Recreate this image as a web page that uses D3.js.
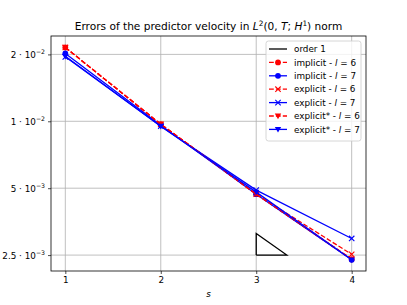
<!DOCTYPE html>
<html>
<head>
<meta charset="utf-8">
<script src="https://cdn.jsdelivr.net/npm/d3@7"></script>
<style>
  body { margin: 0; background: #fff; overflow: hidden; }
  svg { display: block; }
  text { font-family: "DejaVu Sans", sans-serif; }
</style>
</head>
<body>
<div id="chart"></div>
<script>
var width = 407
var height = 305
var margin = { top: 36, bottom: 34, left: 51, right: 41 }
var innerWidth = width - margin.left - margin.right
var innerHeight = height - margin.top - margin.bottom

// data
var sValues = [1, 2, 3, 4]
var xTicks = [1, 2, 3, 4]
var yTicks = [2.5e-3, 5e-3, 1e-2, 2e-2]
var yTickMant = ['2.5', '5', '1', '2']
var yTickExp = ['\u22123', '\u22123', '\u22122', '\u22122']

var implicit6 = [0.0215, 0.0097, 0.0047, 0.00239]
var implicit7 = [0.0202, 0.0096, 0.0047, 0.00238]
var explicit6 = [0.0215, 0.0097, 0.0047, 0.00252]
var explicit7 = [0.0195, 0.0095, 0.0049, 0.00297]
var explicitS6 = [0.0215, 0.0097, 0.0047, 0.00240]
var explicitS7 = [0.0196, 0.0095, 0.0048, 0.00238]

// order 1 triangle
var triS = [3, 3.32, 3, 3]
var triE = [2.5e-3, 2.5e-3, 3.13e-3, 2.5e-3]

var series = [
    { name: 'implicit', l: 6, data: implicit6, color: 'red', dash: true, marker: 'circle' },
    { name: 'implicit', l: 7, data: implicit7, color: 'blue', dash: false, marker: 'circle' },
    { name: 'explicit', l: 6, data: explicit6, color: 'red', dash: true, marker: 'x' },
    { name: 'explicit', l: 7, data: explicit7, color: 'blue', dash: false, marker: 'x' },
    { name: 'explicit*', l: 6, data: explicitS6, color: 'red', dash: true, marker: 'tri' },
    { name: 'explicit*', l: 7, data: explicitS7, color: 'blue', dash: false, marker: 'tri' }
]

var svg = d3.select('#chart').append('svg').attr('width', width).attr('height', height)

var xScale = d3.scaleLinear().domain([0.85, 4.15]).range([0, innerWidth])
var yScale = d3.scaleLog().domain([0.00212, 0.0242]).range([innerHeight, 0])

var g = svg.append('g').attr('transform', `translate(${margin.left},${margin.top})`)

// grid
g.append('g').selectAll('line').data(xTicks).join('line')
    .attr('x1', d => xScale(d)).attr('x2', d => xScale(d))
    .attr('y1', 0).attr('y2', innerHeight)
    .attr('stroke', '#b0b0b0').attr('stroke-width', 0.8)
g.append('g').selectAll('line').data(yTicks).join('line')
    .attr('y1', d => yScale(d)).attr('y2', d => yScale(d))
    .attr('x1', 0).attr('x2', innerWidth)
    .attr('stroke', '#b0b0b0').attr('stroke-width', 0.8)

// axes
var xAxis = d3.axisBottom(xScale).tickValues(xTicks).tickSize(3).tickPadding(3).tickFormat(d3.format('d'))
var gx = g.append('g').attr('transform', `translate(0,${innerHeight})`).call(xAxis)
gx.select('.domain').remove()
gx.selectAll('text').attr('font-size', 8.8).attr('fill', '#000').attr('font-family', 'DejaVu Sans')
gx.selectAll('line').attr('stroke-width', 0.7)

var yAxis = d3.axisLeft(yScale).tickValues(yTicks).tickSize(3).tickPadding(3).tickFormat('')
var gy = g.append('g').call(yAxis)
gy.select('.domain').remove()
gy.selectAll('.tick text').remove()
gy.selectAll('line').attr('stroke-width', 0.7)
gy.selectAll('.tick').each(function (d, i) {
    var t = d3.select(this).append('text')
        .attr('x', -6).attr('y', 3).attr('text-anchor', 'end')
        .attr('font-size', 8.8).attr('fill', '#000')
    t.append('tspan').text(yTickMant[i] + ' \u00b7 10')
    t.append('tspan').attr('dy', -3.5).attr('font-size', 6.2).text(yTickExp[i])
})

// order 1 triangle
var triLine = d3.line().x((d, i) => xScale(triS[i])).y((d, i) => yScale(triE[i]))
g.append('path').attr('d', triLine(triS)).attr('fill', 'none')
    .attr('stroke', 'black').attr('stroke-width', 1.3)

// series
var line = d3.line().x((d, i) => xScale(sValues[i])).y(d => yScale(d))

function drawMarker(sel, type, color) {
    if (type === 'circle') {
        sel.append('circle').attr('r', 2.9).attr('fill', color)
    } else if (type === 'x') {
        sel.append('path').attr('d', 'M-2.7,-2.7L2.7,2.7M-2.7,2.7L2.7,-2.7')
            .attr('stroke', color).attr('stroke-width', 1.1).attr('fill', 'none')
    } else {
        sel.append('path').attr('d', 'M-3.2,-2.4L3.2,-2.4L0,3.2Z').attr('fill', color)
    }
}

series.forEach(function (s) {
    g.append('path').attr('d', line(s.data)).attr('fill', 'none')
        .attr('stroke', s.color).attr('stroke-width', 1.3)
        .attr('stroke-dasharray', s.dash ? '4.8,2.1' : null)
    s.data.forEach(function (v, i) {
        var m = g.append('g').attr('transform', `translate(${xScale(sValues[i])},${yScale(v)})`)
        drawMarker(m, s.marker, s.color)
    })
})

// frame
g.append('rect').attr('width', innerWidth).attr('height', innerHeight)
    .attr('fill', 'none').attr('stroke', 'black').attr('stroke-width', 0.8)

// title
var title = svg.append('text').attr('x', margin.left + innerWidth / 2).attr('y', 30)
    .attr('text-anchor', 'middle').attr('font-size', 10.6).attr('fill', '#000')
title.append('tspan').text('Errors of the predictor velocity in ')
title.append('tspan').attr('font-style', 'italic').text('L')
title.append('tspan').attr('dy', -4).attr('font-size', 7.4).text('2')
title.append('tspan').attr('dy', 4).text('(0, ')
title.append('tspan').attr('font-style', 'italic').text('T')
title.append('tspan').text('; ')
title.append('tspan').attr('font-style', 'italic').text('H')
title.append('tspan').attr('dy', -4).attr('font-size', 7.4).text('1')
title.append('tspan').attr('dy', 4).text(') norm')

// x label
svg.append('text').attr('x', margin.left + innerWidth / 2).attr('y', 297)
    .attr('text-anchor', 'middle').attr('font-size', 8.8).attr('font-style', 'italic').text('s')

// legend
var lg = svg.append('g').attr('transform', 'translate(266,41)')
lg.append('rect').attr('width', 95).attr('height', 100).attr('rx', 2.5)
    .attr('fill', 'white').attr('fill-opacity', 0.8).attr('stroke', '#cccccc').attr('stroke-width', 0.8)
var rowH = 13.4
var rows = [{ label: 'order 1', color: 'black', dash: false, marker: null }].concat(series)
rows.forEach(function (r, i) {
    var y = 8 + i * rowH
    var row = lg.append('g').attr('transform', `translate(0,${y})`)
    row.append('line').attr('x1', 3).attr('x2', 21).attr('stroke', r.color).attr('stroke-width', 1.3)
        .attr('stroke-dasharray', r.dash ? '4.8,2.1' : null)
    if (r.marker) {
        var m = row.append('g').attr('transform', 'translate(12,0)')
        drawMarker(m, r.marker, r.color)
    }
    var t = row.append('text').attr('x', 28).attr('y', 3.2).attr('font-size', 8.8).attr('fill', '#000')
    if (r.l) {
        t.append('tspan').text(r.name + ' - ')
        t.append('tspan').attr('font-style', 'italic').text('l')
        t.append('tspan').text(' = ' + r.l)
    } else {
        t.text(r.label)
    }
})
</script>
</body>
</html>
